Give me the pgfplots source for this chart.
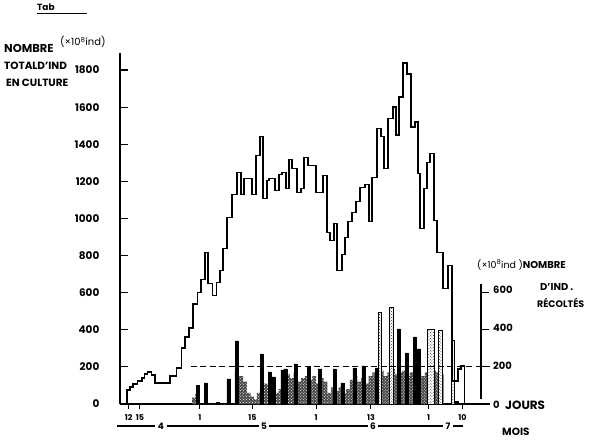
\documentclass[border=0pt]{standalone}
\usepackage{pgfplots}
\pgfplotsset{compat=1.18}
\usepackage{fontspec}
\setmainfont{Poppins}
\usetikzlibrary{patterns}
\begin{document}
\begin{tikzpicture}
\useasboundingbox (0bp,0bp) rectangle (600bp,440bp);
\begin{axis}[
  at={(120bp,36bp)}, anchor=south west,
  scale only axis, width=370bp, height=351bp,
  xmin=-2.32, xmax=96.35, ymin=0, ymax=1892,
  axis x line=bottom, axis y line=left,
  axis line style={line width=1.5bp, -},
  clip=false,
  tick style={draw=none},
  ytick={0,200,400,600,800,1000,1200,1400,1600,1800},
  yticklabels={0,200,400,600,800,1000,1200,1400,1600,1800},
  yticklabel style={font=\bfseries\fontsize{10.5}{11}\selectfont, xshift=-15bp},
  xtick={0,3,19,33,50,64.6,80,89},
  xticklabels={12,15,1,15,1,13,1,10},
  xticklabel style={font=\bfseries\fontsize{8}{9}\selectfont, yshift=-5bp},
]
\pgfplotstableread{
x y
16.9 0
16.9 35
17.8 55
19.0 0
28.3 0
28.3 180
29.4 150
30.5 120
31.5 60
32.5 40
33.4 25
34.2 60
35.0 90
36.0 110
37.0 100
38.0 120
39.0 60
40.0 80
41.0 150
42.0 160
43.0 140
44.0 170
45.0 120
46.0 140
47.0 150
48.0 130
49.0 150
50.0 110
51.0 140
52.0 120
53.0 60
54.0 90
55.0 70
56.0 90
57.0 60
58.0 80
59.0 130
60.0 150
61.0 120
62.0 140
63.0 110
64.0 150
65.0 170
66.0 160
67.0 180
68.0 150
69.0 170
70.0 190
71.0 160
72.0 170
73.0 180
74.0 150
75.0 170
76.0 160
77.0 180
78.0 150
79.0 170
80.0 190
81.0 180
82.0 170
83.0 160
84.0 0
}\stipple
% stippled area of harvested individuals
\addplot[const plot, draw=none, fill=black!72] table {\stipple} \closedcycle;
\addplot[const plot, draw=none, pattern=crosshatch dots, pattern color=white] table {\stipple} \closedcycle;
% dark harvest bars
\addplot[ybar, bar width=0.8, bar shift=0pt, fill=black, draw=black] table {
18.35 100
20.5 114
23.7 10
26.6 135
28.9 340
35.55 270
37.55 173
38.6 146
41.0 184
41.8 189
44.6 216
48.1 200
51.0 189
54.9 189
57.0 114
60.2 195
62.6 205
66.1 195
72.1 405
74.2 276
76.35 362
77.3 297
87.55 15
};
% outlined stippled harvest bars
\addplot[ybar, bar width=0.9, bar shift=0pt, draw=black, line width=1bp, fill=white,
  postaction={pattern=crosshatch dots, pattern color=black!80}] table {
67.0 492
70.1 519
83.15 395
86.5 340
};
\addplot[ybar, bar width=2.0, bar shift=0pt, draw=black, line width=1bp, fill=white,
  postaction={pattern=crosshatch dots, pattern color=black!80}] table {
80.6 400
};
% total number of individuals in culture
\addplot[const plot, black, line width=1.5bp] table {
-0.5 0
-0.5 76
0.4 92
1.2 108
2.3 124
3.5 140
4.2 162
5.0 172
6.1 157
7.0 113
11.0 151
12.8 195
14.1 303
15.0 362
16.1 411
17.2 540
18.4 600
19.3 670
20.4 816
21.2 649
22.3 584
23.4 654
24.4 719
25.2 838
26.2 1005
27.6 1130
28.9 1249
30.0 1130
30.8 1216
32.9 1130
34.0 1340
35.0 1443
35.8 1108
36.9 1205
37.4 1216
39.0 1151
40.1 1238
40.9 1249
42.0 1162
42.8 1319
43.6 1270
44.9 1140
46.0 1162
46.8 1330
47.8 1286
50.0 1140
51.8 1232
52.9 924
53.7 881
54.8 973
55.6 719
56.9 805
57.7 897
58.5 984
59.6 1032
60.6 1092
61.7 1168
63.0 1184
64.1 984
64.9 1222
66.2 1486
67.3 1443
68.1 1270
69.2 1540
70.5 1600
71.3 1449
72.1 1654
73.2 1838
74.2 1778
75.3 1492
76.4 1519
77.2 1243
77.7 946
78.8 1162
79.6 1303
80.4 1351
81.4 989
82.2 816
83.8 622
85.2 746
86.2 124
87.8 189
88.6 205
89.6 0
};
% dashed reference line at 200
\addplot[black, line width=1.2bp, dash pattern=on 6bp off 3.5bp] coordinates {(16.6,200) (96.3,200)};
% tick marks
\pgfplotsinvokeforeach{0,3,19,33,50,64.6,80,89}{
  \draw[line width=1bp] (axis cs:#1,0) -- ++(0bp,-5bp);
}
\pgfplotsinvokeforeach{200,400,600,800,1000,1200,1400,1600,1800}{
  \draw[line width=1.2bp] (axis cs:-2.32,#1) -- ++(8bp,0bp);
}
% right-hand axis for harvested individuals
\draw[line width=1.2bp] (axis cs:93.95,27) -- (axis cs:93.95,649);
\pgfplotsinvokeforeach{200,400,600}{
  \draw[line width=1.2bp] (axis cs:93.95,#1) -- ++(8bp,0bp);
}
\end{axis}
% title mark
\node[font=\bfseries\fontsize{9}{10}\selectfont, anchor=west, inner sep=0pt] at (37bp,433bp) {Tab};
\draw[line width=1bp] (37bp,426bp) -- (87bp,426bp);
% left labels
\node[font=\bfseries\fontsize{11.5}{12}\selectfont, anchor=west, inner sep=0pt] at (4bp,392bp) {NOMBRE};
\node[font=\fontsize{10}{11}\selectfont, anchor=west, inner sep=0pt] at (60bp,398bp) {(×10\textsuperscript{8}ind)};
\node[font=\bfseries\fontsize{10.5}{11}\selectfont, anchor=west, inner sep=0pt] at (4bp,374bp) {TOTALD'IND};
\node[font=\bfseries\fontsize{10.5}{11}\selectfont, anchor=west, inner sep=0pt] at (6bp,357bp) {EN CULTURE};
% right labels
\node[font=\fontsize{9.5}{10}\selectfont, anchor=west, inner sep=0pt] at (477bp,175bp) {(×10\textsuperscript{8}ind )\textbf{\fontsize{10}{11}\selectfont NOMBRE}};
\node[font=\bfseries\fontsize{10}{11}\selectfont, anchor=west, inner sep=0pt] at (540bp,153bp) {D'IND .};
\node[font=\bfseries\fontsize{9.5}{10}\selectfont, anchor=west, inner sep=0pt] at (537bp,137bp) {RÉCOLTÉS};
\node[font=\bfseries\fontsize{10}{11}\selectfont, anchor=west, inner sep=0pt] at (493bp,150bp) {600};
\node[font=\bfseries\fontsize{10}{11}\selectfont, anchor=west, inner sep=0pt] at (493bp,112bp) {400};
\node[font=\bfseries\fontsize{10}{11}\selectfont, anchor=west, inner sep=0pt] at (493bp,74bp) {200};
\node[font=\bfseries\fontsize{10}{11}\selectfont, anchor=west, inner sep=0pt] at (493bp,35bp) {0};
\node[font=\bfseries\fontsize{12}{13}\selectfont, anchor=west, inner sep=0pt] at (505bp,35bp) {JOURS};
\node[font=\bfseries\fontsize{10.5}{11}\selectfont, anchor=west, inner sep=0pt] at (502bp,8bp) {MOIS};
% month row
\draw[line width=1.2bp] (117bp,14bp) -- (463bp,14bp);
\foreach \xx/\mm in {161/4,264/5,373/6,448/7}{
  \node[font=\bfseries\fontsize{9}{10}\selectfont, fill=white, inner sep=2.5bp] at (\xx bp,14bp) {\mm};
}
\end{tikzpicture}
\end{document}
